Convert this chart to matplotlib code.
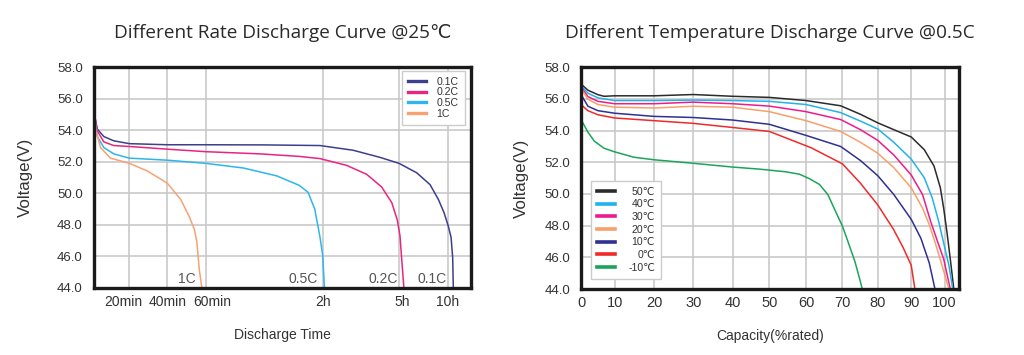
import numpy as np
import matplotlib
matplotlib.use("Agg")
import matplotlib.pyplot as plt
from matplotlib.transforms import ScaledTranslation

# ---- left chart: discharge at different rates (time in minutes, voltage in V)
t_01c = [0, 1.9, 5.6, 11.2, 20, 40, 60, 90, 118.6, 192, 255, 300, 409, 491, 543, 578, 604, 621, 631, 635]
v_01c = [55.1, 54.07, 53.6, 53.33, 53.15, 53.08, 53.08, 53.07, 53.03, 52.73, 52.28, 51.9, 51.3, 50.55,
         49.6, 48.75, 47.9, 47.2, 45.9, 44.0]
t_02c = [0, 1.9, 5.6, 11.2, 20, 40, 60, 88, 108, 118.6, 176.6, 223.8, 259, 283, 296, 306, 316, 330]
v_02c = [55.2, 53.95, 53.26, 53.03, 52.97, 52.8, 52.64, 52.5, 52.34, 52.2, 51.77, 51.2, 50.4, 49.4, 48.3,
         47.3, 45.9, 44.0]
t_05c = [0, 1.9, 5.6, 11.2, 20, 40, 60, 79.5, 96.5, 108, 112.5, 115.9, 118.5, 120, 124]
v_05c = [55.0, 53.6, 52.9, 52.5, 52.23, 52.1, 51.9, 51.6, 51.1, 50.5, 50.06, 49.0, 47.3, 46.06, 44.0]
t_1c = [0, 0.9, 3.7, 9.3, 20, 29.4, 40, 47, 51.5, 54.1, 55.4, 56.7, 58]
v_1c = [55.8, 54.07, 52.9, 52.23, 51.9, 51.42, 50.64, 49.6, 48.5, 47.7, 46.9, 45.1, 44.0]

rate_labels = ["0.1C", "0.2C", "0.5C", "1C"]
time_ticks = [20, 40, 60, 120, 300, 600]
time_tick_labels = ["20min", "40min", "60min", "2h", "5h", "10h"]

# ---- right chart: discharge at different temperatures (capacity %, voltage V)
cap_50 = [0, 2, 5, 6.8, 10, 20, 30, 40, 50, 60, 69.5, 75.1, 80, 84.8, 90, 93.9, 96.8, 98.7, 99.7, 100.7,
          101.6, 102.6]
v_50 = [56.93, 56.55, 56.27, 56.17, 56.2, 56.2, 56.28, 56.17, 56.1, 55.9, 55.57, 55.03, 54.49, 54.06, 53.6,
        52.8, 51.77, 50.4, 49.1, 47.5, 45.9, 44.0]
cap_40 = [0, 2, 5, 10, 20, 30, 40, 50, 60, 69.5, 75.1, 80, 84.8, 90, 93.9, 96.3, 98.2, 99.7, 101.2, 102.3]
v_40 = [56.84, 56.36, 56.07, 55.9, 55.9, 55.93, 55.9, 55.85, 55.65, 55.14, 54.6, 54.1, 53.26, 52.2, 51.03,
        49.74, 48.27, 46.9, 45.5, 44.0]
cap_30 = [0, 2, 5, 10, 20, 30, 40, 50, 60, 69.5, 75.1, 80, 84.8, 90, 93.4, 95.8, 97.7, 99.7, 101.6]
v_30 = [56.74, 56.15, 55.85, 55.7, 55.7, 55.8, 55.7, 55.55, 55.2, 54.7, 54.06, 53.38, 52.46, 51.2, 49.96,
        48.27, 47.1, 45.9, 44.0]
cap_20 = [0, 2, 5, 10, 20, 30, 40, 50, 60, 69.5, 75.1, 80, 84.8, 90, 93.4, 95.4, 97.2, 99.2, 101.2]
v_20 = [56.65, 55.98, 55.65, 55.48, 55.43, 55.54, 55.48, 55.2, 54.63, 53.95, 53.26, 52.57, 51.66, 50.39, 49.1,
        48.06, 46.9, 45.5, 44.0]
cap_10 = [0, 2, 5, 10, 20, 30, 40, 50, 60, 69.5, 75.1, 80, 84.8, 90, 92.9, 95.4, 97.1]
v_10 = [56.25, 55.54, 55.26, 55.1, 54.9, 54.83, 54.67, 54.4, 53.7, 53.0, 52.11, 51.15, 49.96, 48.4, 47.2,
        45.64, 44.0]
cap_0 = [0, 2, 5, 10, 20, 30, 40, 50, 61.4, 70, 75, 80, 84.6, 87.5, 90, 91.1]
v_0 = [55.63, 55.26, 55.0, 54.8, 54.63, 54.46, 54.2, 53.95, 52.92, 51.9, 50.7, 49.3, 47.8, 46.65, 45.5, 44.0]
cap_m10 = [0, 2, 3.9, 6.8, 10, 14.9, 20, 30, 40, 47.3, 54.5, 58.2, 60.9, 63.7, 66, 67.9, 70, 71.6, 73.5,
           74.9, 75.6]
v_m10 = [54.67, 53.9, 53.34, 52.89, 52.66, 52.32, 52.16, 51.94, 51.7, 51.57, 51.4, 51.25, 50.97, 50.6, 49.96,
         49.0, 47.96, 46.96, 45.75, 44.6, 44.0]

temp_labels = ["50℃", "40℃", "30℃", "20℃", "10℃", "0℃", "-10℃"]
cap_ticks = [0, 10, 20, 30, 40, 50, 60, 70, 80, 90, 100]
volt_ticks = [44, 46, 48, 50, 52, 54, 56, 58]

# the source image uses uneven x spacing, so both x axes get a piecewise scale
time_knots = [0, 20, 40, 60, 120, 300, 600, 745]
time_pos = [0, 35.3, 73.3, 111.7, 228.7, 305, 353.7, 377]
cap_knots = [0, 10, 20, 30, 40, 50, 60, 70, 80, 90, 100, 104]
cap_pos = [0, 33.3, 72.7, 111.7, 151, 187.7, 224.3, 260.7, 296, 329.3, 362.7, 376.7]

rate_colors = ["#3d3f8c", "#ea2481", "#2cb6ea", "#f7a274"]
temp_colors = ["#2b2b2b", "#22b2ec", "#ec1c8c", "#f8a06c", "#2e3192", "#ee2a2a", "#1ca55a"]

sans = ["Liberation Sans", "DejaVu Sans"]
plt.rcParams["font.family"] = sans
plt.rcParams["text.color"] = "#333333"

fig = plt.figure(figsize=(10.24, 3.55), dpi=100)
ax1 = fig.add_axes([94 / 1024, 1 - 287.7 / 355, 377 / 1024, 220.4 / 355])
ax2 = fig.add_axes([581.3 / 1024, 1 - 289 / 355, 377.4 / 1024, 221.7 / 355])


def piecewise(knots, pos):
    fwd = lambda x: np.interp(x, knots, pos, left=-1e3, right=1e4)
    inv = lambda p: np.interp(p, pos, knots)
    return fwd, inv


def style(ax, title):
    ax.set_ylim(44, 58)
    ax.set_yticks(volt_ticks)
    ax.set_yticklabels([f"{v:.1f}" for v in volt_ticks])
    ax.grid(True, color="#c9c9c9", lw=1.2)
    ax.set_axisbelow(True)
    ax.tick_params(length=0, labelsize=9.5, labelcolor="#333333")
    ax.tick_params(axis="y", pad=8)
    ax.tick_params(axis="x", pad=5)
    for s in ax.spines.values():
        s.set_linewidth(2.4)
        s.set_color("#1a1a1a")
    ax.set_ylabel("Voltage(V)", fontsize=12.2, color="#333333")
    ax.set_title(title, fontsize=13.7, pad=21, color="#2a2a2a",
                 family=["Open Sans", "DejaVu Sans"])


# left panel
ax1.set_xscale("function", functions=piecewise(time_knots, time_pos))
ax1.set_xlim(0, 745)
for t, v, c, lab in zip([t_01c, t_02c, t_05c, t_1c], [v_01c, v_02c, v_05c, v_1c], rate_colors, rate_labels):
    ax1.plot(t, v, color=c, lw=1.1, label=lab)
    ax1.annotate(lab, (t[-1], 44), xytext=(-4.5, 1.5), textcoords="offset points",
                 ha="right", va="bottom", fontsize=10, color="#555555")
ax1.set_xticks(time_ticks)
ax1.set_xticklabels(time_tick_labels)
ax1.xaxis.set_minor_locator(plt.NullLocator())
style(ax1, "Different Rate Discharge Curve @25℃")
ax1.tick_params(axis="x", labelsize=10)
# spread the crowded minute labels apart a little, as in the source
for lab, dx in zip(ax1.get_xticklabels(), [-4, 0, 4.5, 0, 2, 0]):
    lab.set_transform(lab.get_transform() + ScaledTranslation(dx / 72, 0, fig.dpi_scale_trans))
ax1.set_xlabel("Discharge Time", fontsize=10, labelpad=14, color="#333333")
ax1.yaxis.set_label_coords(-0.162, 0.5)
leg1 = ax1.legend(loc="upper right", bbox_to_anchor=(0.984, 0.985), fontsize=7.6, frameon=True,
                  fancybox=False, edgecolor="#cccccc", framealpha=1, handlelength=1.7,
                  handletextpad=1.0, labelspacing=0.05, borderpad=0.6, borderaxespad=0)
for h in leg1.get_lines():
    h.set_linewidth(2.4)

# right panel
ax2.set_xscale("function", functions=piecewise(cap_knots, cap_pos))
ax2.set_xlim(0, 104)
temp_caps = [cap_50, cap_40, cap_30, cap_20, cap_10, cap_0, cap_m10]
temp_volts = [v_50, v_40, v_30, v_20, v_10, v_0, v_m10]
for x, v, c, lab in zip(temp_caps, temp_volts, temp_colors, temp_labels):
    ax2.plot(x, v, color=c, lw=1.1, label=lab)
ax2.set_xticks(cap_ticks)
ax2.set_xticklabels([str(c) for c in cap_ticks])
ax2.xaxis.set_minor_locator(plt.NullLocator())
style(ax2, "Different Temperature Discharge Curve @0.5C")
ax2.tick_params(axis="x", labelsize=10.5)
ax2.set_xlabel("Capacity(%rated)", fontsize=10, labelpad=14, color="#333333")
ax2.yaxis.set_label_coords(-0.139, 0.5)
leg2 = ax2.legend(loc="lower left", bbox_to_anchor=(0.026, 0.045), fontsize=7.6, frameon=True,
                  fancybox=False, edgecolor="#cccccc", framealpha=1, handlelength=1.7,
                  handletextpad=1.2, labelspacing=0.25, borderpad=0.6, borderaxespad=0)
for h in leg2.get_lines():
    h.set_linewidth(2.6)

# right-align the temperature labels like the source
renderer = fig.canvas.get_renderer()
widths = [t.get_window_extent(renderer).width for t in leg2.get_texts()]
for t, w in zip(leg2.get_texts(), widths):
    t.set_position((max(widths) - w, 0))

fig.savefig("out.png", dpi=100)
